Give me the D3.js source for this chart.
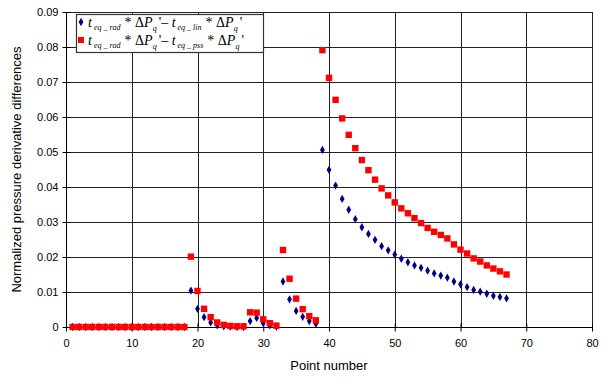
<!DOCTYPE html>
<html>
<head>
<meta charset="utf-8">
<script src="https://cdn.jsdelivr.net/npm/d3@7"></script>
<style>
  body { margin: 0; background: #fff; }
  svg { display: block; }
  .tick text { font-family: "Liberation Sans", Arial, sans-serif; font-size: 11px; fill: #000; }
</style>
</head>
<body>
<svg id="chart" width="602" height="377"></svg>
<script>
// values, point numbers 1..67
var linDiff = [
  0,0,0,0,0,0,0,0,0,0,0,0,0,0,0,0,0,0,
  0.0104,0.0052,0.0028,0.0013,0.0005,0.0002,0.0001,0.0000,0.0000,
  0.0017,0.0026,0.0011,0.0005,0.0001,
  0.0130,0.0079,0.0046,0.0029,0.0017,0.0009,
  0.0506,0.0449,0.0404,0.0366,0.0335,0.0308,0.0285,0.0266,0.0249,0.0231,
  0.0219,0.0207,0.0195,0.0185,0.0176,0.0169,0.0161,0.0153,0.0147,0.0141,
  0.0130,0.0122,0.0114,0.0106,0.0101,0.0095,0.0089,0.0086,0.0082
];
var pssDiff = [
  0,0,0,0,0,0,0,0,0,0,0,0,0,0,0,0,0,0,
  0.0201,0.0103,0.0052,0.0028,0.0013,0.0006,0.0003,0.0002,0.0002,
  0.0042,0.0041,0.0022,0.0011,0.0004,
  0.0220,0.0138,0.0081,0.0051,0.0031,0.0019,
  0.0791,0.0712,0.0649,0.0596,0.0549,0.0511,0.0477,0.0448,0.0421,0.0396,
  0.0376,0.0356,0.0339,0.0325,0.0311,0.0297,0.0283,0.0272,0.0263,0.0253,
  0.0236,0.0221,0.0210,0.0196,0.0187,0.0176,0.0167,0.0159,0.0150
];
var xTicks = [0, 10, 20, 30, 40, 50, 60, 70, 80];
var yTicks = [0, 0.01, 0.02, 0.03, 0.04, 0.05, 0.06, 0.07, 0.08, 0.09];

var margin = {top: 12, right: 10, bottom: 50, left: 66};
var width = 602, height = 377;

var svg = d3.select('#chart');

var x = d3.scaleLinear()
  .domain([0, 80])
  .range([margin.left, width - margin.right]);
var y = d3.scaleLinear()
  .domain([0, 0.09])
  .range([height - margin.bottom, margin.top]);

// gridlines
svg.append('g')
  .selectAll('line')
  .data(yTicks.slice(1))
  .enter().append('line')
  .attr('x1', x(0)).attr('x2', x(80))
  .attr('y1', function(d) { return Math.round(y(d)) + 0.5; })
  .attr('y2', function(d) { return Math.round(y(d)) + 0.5; })
  .style('stroke', '#222')
  .style('stroke-width', '1px');

svg.append('g')
  .selectAll('line')
  .data(xTicks.slice(1))
  .enter().append('line')
  .attr('y1', y(0)).attr('y2', y(0.09))
  .attr('x1', function(d) { return Math.round(x(d)) + 0.5; })
  .attr('x2', function(d) { return Math.round(x(d)) + 0.5; })
  .style('stroke', '#222')
  .style('stroke-width', '1px');

// axes with crossing ticks
var yAxis = svg.append('g')
  .attr('transform', 'translate(' + (Math.round(x(0)) + 0.5) + ',0)')
  .call(d3.axisLeft(y).tickValues(yTicks).tickSize(4).tickPadding(4)
    .tickFormat(function(d) { return d === 0 ? '0' : d3.format('.2f')(d); }));
yAxis.selectAll('.tick line').attr('x2', -4).attr('x1', 4);
yAxis.select('.domain').attr('d', 'M0,' + y(0) + 'V' + y(0.09));

var xAxis = svg.append('g')
  .attr('transform', 'translate(0,' + (Math.round(y(0)) + 0.5) + ')')
  .call(d3.axisBottom(x).tickValues(xTicks).tickSize(4).tickPadding(8));
xAxis.selectAll('.tick line').attr('y1', -4).attr('y2', 4);
xAxis.select('.domain').attr('d', 'M' + x(0) + ',0H' + x(80));
svg.selectAll('.domain, .tick line').style('stroke', '#000');

// axis titles
svg.append('text')
  .attr('x', (x(0) + x(80)) / 2)
  .attr('y', 370)
  .attr('text-anchor', 'middle')
  .style('font-family', '"Liberation Sans", Arial, sans-serif')
  .style('font-size', '13px')
  .text('Point number');

svg.append('text')
  .attr('transform', 'translate(21,' + ((y(0) + y(0.09)) / 2) + ') rotate(-90)')
  .attr('text-anchor', 'middle')
  .style('font-family', '"Liberation Sans", Arial, sans-serif')
  .style('font-size', '13px')
  .text('Normalized pressure derivative differences');

// points
var diamond = d3.symbol().type(d3.symbolDiamond).size(20);

svg.append('g')
  .selectAll('path')
  .data(linDiff)
  .enter().append('path')
  .attr('transform', function(d, i) { return 'translate(' + x(i + 1) + ',' + y(d) + ')'; })
  .attr('d', diamond)
  .style('fill', '#000080');

svg.append('g')
  .selectAll('rect')
  .data(pssDiff)
  .enter().append('rect')
  .attr('x', function(d, i) { return x(i + 1) - 3.2; })
  .attr('y', function(d) { return y(d) - 3.2; })
  .attr('width', 6.4)
  .attr('height', 6.4)
  .style('fill', '#ff0000');

// legend
var legend = svg.append('g').attr('class', 'legend');
legend.append('rect')
  .attr('x', 76.5).attr('y', 14.5)
  .attr('width', 187).attr('height', 38)
  .style('fill', '#fff')
  .style('stroke', '#333')
  .style('stroke-width', '1.2px');

var legendRows = [
  {sym: 'diamond', color: '#000080', sub2: 'eq _ lin', y: 27},
  {sym: 'square', color: '#ff0000', sub2: 'eq _ pss', y: 45}
];

legendRows.forEach(function(r) {
  if (r.sym === 'diamond') {
    legend.append('path')
      .attr('transform', 'translate(81,' + (r.y - 5) + ')')
      .attr('d', diamond)
      .style('fill', r.color);
  } else {
    legend.append('rect')
      .attr('x', 78).attr('y', r.y - 8)
      .attr('width', 6).attr('height', 6)
      .style('fill', r.color);
  }
  var t = legend.append('text')
    .attr('x', 88).attr('y', r.y)
    .style('font-family', '"Liberation Serif", "Times New Roman", serif')
    .style('font-size', '14px')
    .style('fill', '#000');
  t.append('tspan').style('font-style', 'italic').text('t');
  t.append('tspan').attr('dy', 3).style('font-style', 'italic').style('font-size', '8px').text(' eq _ rad');
  t.append('tspan').attr('dy', -3).attr('dx', 4).text('* \u0394');
  t.append('tspan').style('font-style', 'italic').text('P');
  t.append('tspan').attr('dy', 4).style('font-style', 'italic').style('font-size', '8px').text('q');
  t.append('tspan').attr('dy', -4).attr('dx', 2).text('\'\u2013 ');
  t.append('tspan').style('font-style', 'italic').text('t');
  t.append('tspan').attr('dy', 3).style('font-style', 'italic').style('font-size', '8px').text(' ' + r.sub2);
  t.append('tspan').attr('dy', -3).attr('dx', 4).text('* \u0394');
  t.append('tspan').style('font-style', 'italic').text('P');
  t.append('tspan').attr('dy', 4).style('font-style', 'italic').style('font-size', '8px').text('q');
  t.append('tspan').attr('dy', -4).attr('dx', 2).text('\'');
});
</script>
</body>
</html>
